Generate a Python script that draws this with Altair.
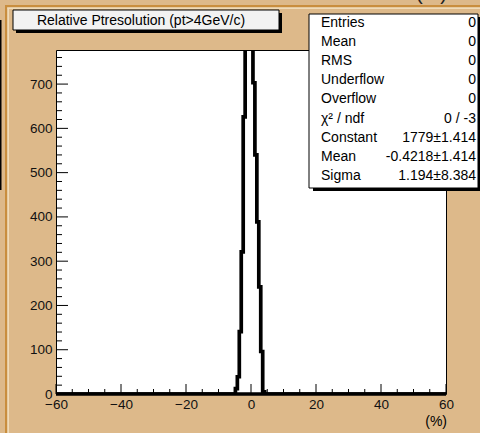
import altair as alt
import pandas as pd

# ---- data ----
bin_edges = [-60, -4.8, -4.2, -3.6, -3.0, -2.4, -1.8, -1.2, -0.6, 0.0, 0.6, 1.2, 1.8, 2.4, 3.0, 3.6, 4.2, 60]
bin_counts = [0, 12, 39, 141, 321, 626, 1000, 1300, 1400, 1150, 703, 540, 389, 242, 96, 5, 0, 0]

x_major = [-60, -40, -20, 0, 20, 40, 60]
x_minor = [v for v in range(-55, 60, 5) if v % 20 != 0]
y_major = [0, 100, 200, 300, 400, 500, 600, 700]
y_minor = [v for v in range(20, 780, 20) if v % 100 != 0]

title_text = "Relative Ptresolution (pt>4GeV/c)"
stats_labels = ["Entries", "Mean", "RMS", "Underflow", "Overflow", "χ² / ndf", "Constant", "Mean", "Sigma"]
stats_values = ["0", "0", "0", "0", "0", "0 / -3", "1779±1.414", "-0.4218±1.414", "1.194±8.384"]
x_unit = "(%)"

# ---- style ----
FONT = "Liberation Sans Narrow, Liberation Sans, Arial"
TAN = "#DDB98A"
ORANGE = "#C98E3E"
LIGHT = "#F0DCB8"
W, H = 390, 344

xs = alt.Scale(domain=[-60, 60], nice=False, zero=False)
ys = alt.Scale(domain=[0, 777], nice=False, zero=True)
x_axis = alt.Axis(values=x_major, ticks=False, domain=False, grid=False, title=None,
                  labelFont=FONT, labelFontSize=13.5, labelColor="#111111",
                  labelPadding=3, labelFlush=False, labelOverlap=False)
y_axis = alt.Axis(values=y_major, ticks=False, domain=False, grid=False, title=None,
                  labelFont=FONT, labelFontSize=13.5, labelColor="#111111",
                  labelPadding=4, labelOverlap=False)


def X(f):
    return alt.X(f, type="quantitative", scale=xs, axis=x_axis)


def Y(f):
    return alt.Y(f, type="quantitative", scale=ys, axis=y_axis)


hist_df = pd.DataFrame({"x": bin_edges, "n": bin_counts})
one = alt.Data(values=[{}])

hist = alt.Chart(hist_df).mark_line(
    interpolate="step-after", color="black", strokeWidth=3.7, clip=True
).encode(x=X("x"), y=Y("n"))

base_rule = alt.Chart(pd.DataFrame({"a": [-60], "b": [60], "z": [0]})).mark_rule(
    color="black", strokeWidth=3.7
).encode(x=X("a"), x2="b", y=Y("z"))

xmaj = alt.Chart(pd.DataFrame({"v": x_major})).mark_rule(color="black", strokeWidth=1).encode(
    x=X("v"), y=alt.value(H), y2=alt.value(H - 10))
xmin = alt.Chart(pd.DataFrame({"v": x_minor})).mark_rule(color="black", strokeWidth=1).encode(
    x=X("v"), y=alt.value(H), y2=alt.value(H - 5))
ymaj = alt.Chart(pd.DataFrame({"v": y_major})).mark_rule(color="black", strokeWidth=1).encode(
    y=Y("v"), x=alt.value(0), x2=alt.value(12))
ymin = alt.Chart(pd.DataFrame({"v": y_minor})).mark_rule(color="black", strokeWidth=1).encode(
    y=Y("v"), x=alt.value(0), x2=alt.value(6))


def box(x1, x2, y1, y2, fill, stroke=None, sw=0):
    kw = dict(fill=fill, clip=False)
    if stroke:
        kw.update(stroke=stroke, strokeWidth=sw)
    return alt.Chart(one).mark_rect(**kw).encode(
        x=alt.value(x1), x2=alt.value(x2), y=alt.value(y1), y2=alt.value(y2))


def txt(s, x, y, size=14, align="left", baseline="middle", color="black"):
    return alt.Chart(one).mark_text(
        text=s, font=FONT, fontSize=size, align=align, baseline=baseline, color=color, clip=False
    ).encode(x=alt.value(x), y=alt.value(y))


# canvas decorations (relative to the plot origin at 56,50)
deco = [
    box(-56, -54.5, -30, 140, "black"),
    box(-51, -49, -45, 383, ORANGE),
    box(-48.5, -47, -42, 383, LIGHT),
    box(-51, 424, -45, -43, ORANGE),
    box(-48.5, 424, -42.5, -41, LIGHT),
    txt(x_unit, 391, -46.5, size=20, align="right", baseline="bottom", color="#222222"),
    # title box
    box(-40, 226, -37, -17, "black"),
    box(-43, 223, -40, -20, "#F2F2F2", "black", 1),
    txt(title_text, 85, -29.5, size=14, align="center"),
    # unit label
    txt(x_unit, 391, 372, size=14, align="right"),
]

stats = [
    box(257, 425, -33, 141, "black"),
    box(253, 422, -36, 138, "white", "black", 1),
]
for i, (lab, val) in enumerate(zip(stats_labels, stats_values)):
    yy = -27 + 19.1 * i
    stats.append(txt(lab, 265, yy))
    stats.append(txt(val, 420, yy, align="right"))

chart = alt.layer(
    hist, base_rule, xmaj, xmin, ymaj, ymin, *deco, *stats
).properties(
    width=W, height=H,
    padding={"left": 56, "top": 50, "right": 34, "bottom": 39},
    autosize=alt.AutoSizeParams(type="none"),
).configure(background=TAN).configure_view(fill="white", stroke="black", strokeWidth=1)

chart.save("out.html", embed_options={"renderer": "svg", "actions": False})
